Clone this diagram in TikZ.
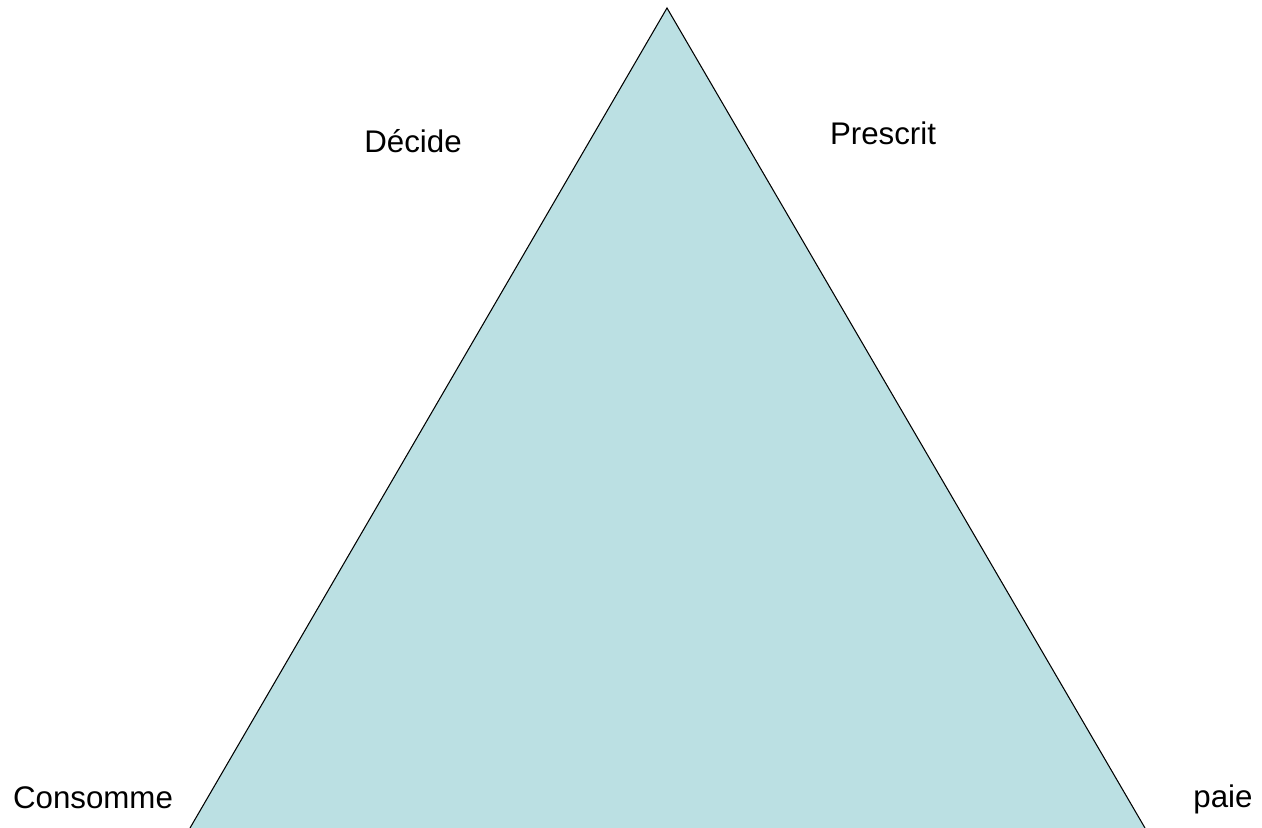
\documentclass[tikz,border=0pt]{standalone}
\usepackage{fontspec}
\setmainfont{Liberation Sans}
\usetikzlibrary{positioning}
\definecolor{triFill}{HTML}{BBE0E3}

\begin{document}
\begin{tikzpicture}[x=0.02cm, y=-0.02cm,
    every node/.style={font=\fontsize{17.8}{21}\selectfont, inner sep=0pt},
    lbl/.style={anchor=base}]
  \useasboundingbox (0,0) rectangle (1262,828);
  \coordinate (top) at (667,8);
  \coordinate (bl) at (190,828);
  \coordinate (br) at (1145,828);
  \filldraw[fill=triFill, draw=black, line width=0.6pt] (bl) -- (top) -- (br);
  \node[lbl] (decide) at (413,153) {Décide};
  \node[lbl] (prescrit) at (883,145) {Prescrit};
  \node[lbl] (consomme) at (93,808) {Consomme};
  \node[lbl] (paie) at (1223,807) {paie};
\end{tikzpicture}
\end{document}
